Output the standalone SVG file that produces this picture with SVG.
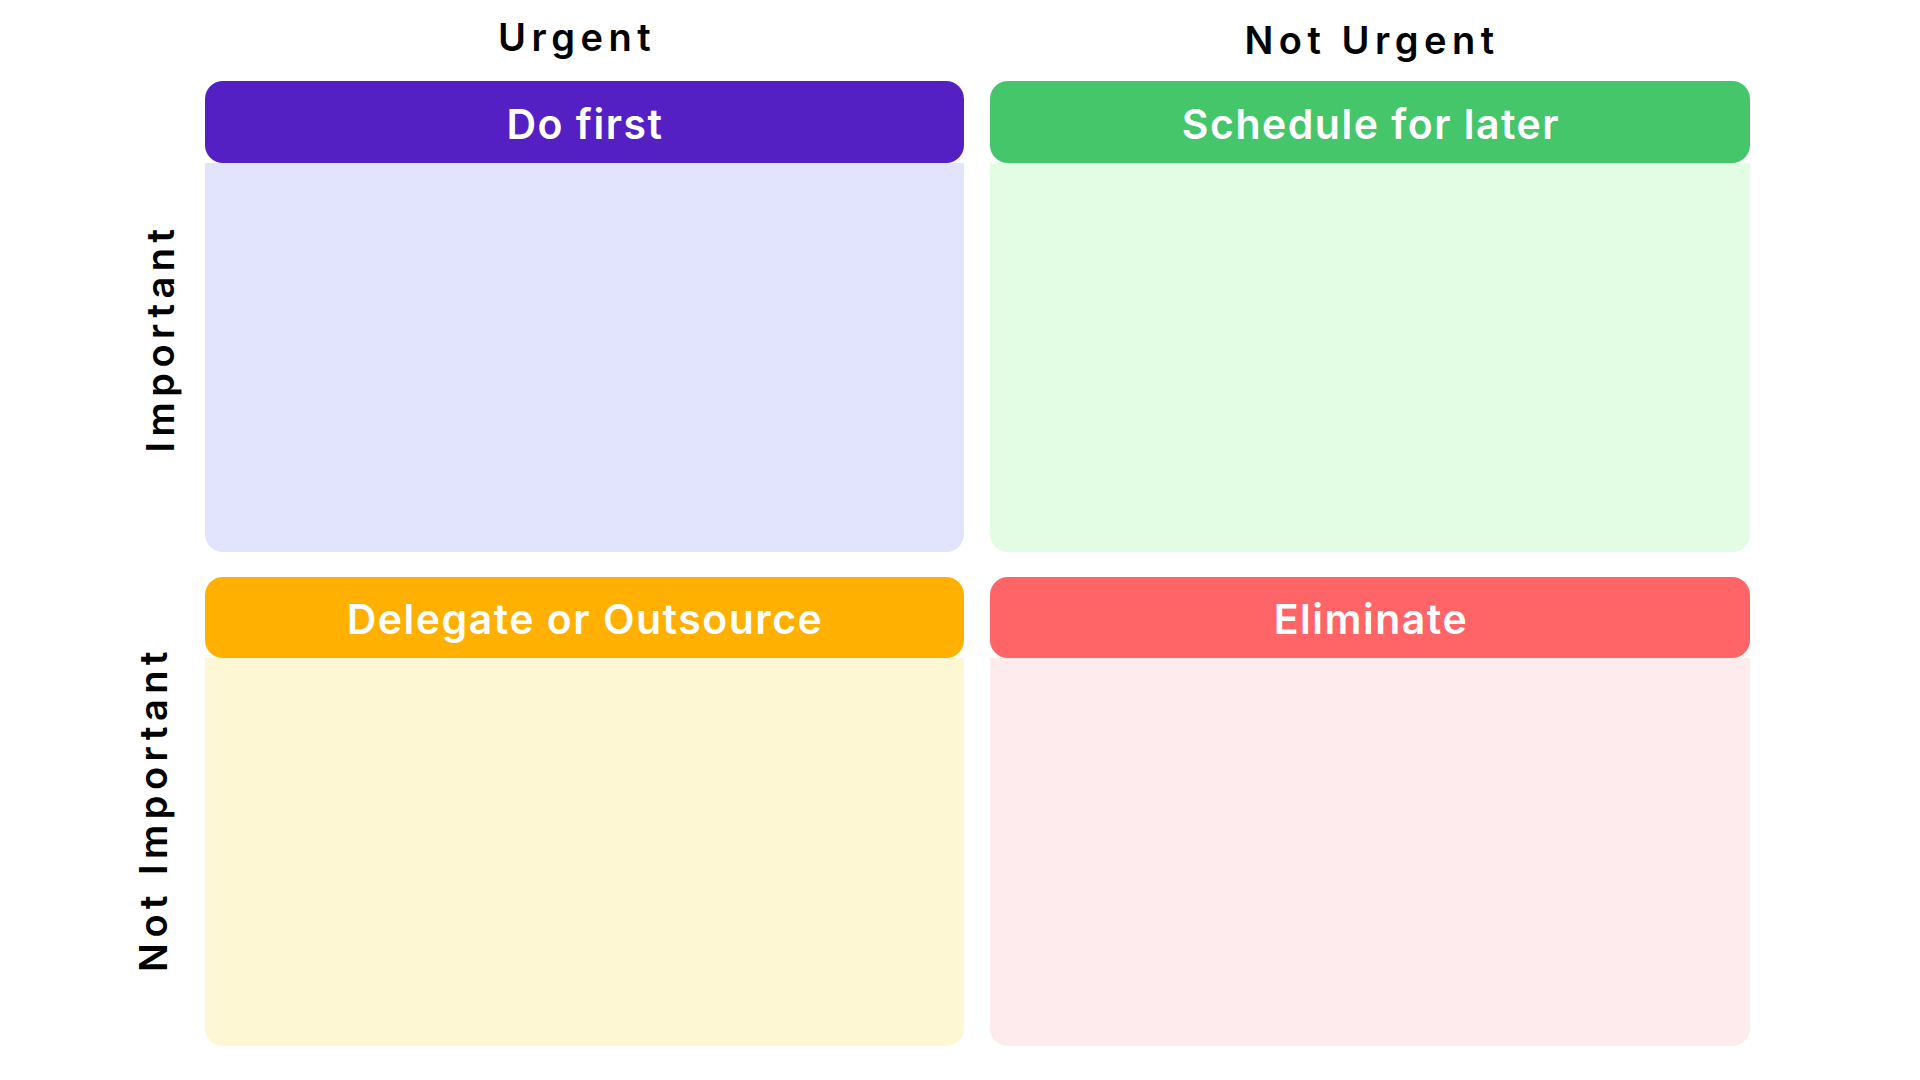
<svg xmlns="http://www.w3.org/2000/svg" width="1920" height="1080" viewBox="0 0 1920 1080">
  <style>
    .axis { font-family: Inter, "DejaVu Sans", sans-serif; font-size: 38px; font-weight: 600; fill: #000; letter-spacing: 5.5px; text-anchor: middle; }
    .title { font-family: Inter, "DejaVu Sans", sans-serif; font-size: 41px; font-weight: 600; fill: #fff; letter-spacing: 1.5px; text-anchor: middle; }
  </style>
  <rect width="1920" height="1080" fill="#fff"/>

  <!-- column axis labels -->
  <text class="axis" x="577" y="51">Urgent</text>
  <text class="axis" x="1372" y="54">Not Urgent</text>

  <!-- row axis labels -->
  <text class="axis" transform="translate(174 338) rotate(-90)">Important</text>
  <text class="axis" transform="translate(167 809) rotate(-90)">Not Important</text>

  <!-- quadrant: do first -->
  <g id="do-first">
    <path d="M205 163 H964 V534 a18 18 0 0 1 -18 18 H223 a18 18 0 0 1 -18 -18 Z" fill="#E2E4FE"/>
    <rect x="205" y="81" width="759" height="82" rx="18" fill="#5420C4"/>
    <text class="title" x="585" y="139">Do first</text>
  </g>

  <!-- quadrant: schedule for later -->
  <g id="schedule">
    <path d="M990 163 H1750 V534 a18 18 0 0 1 -18 18 H1008 a18 18 0 0 1 -18 -18 Z" fill="#E2FDE4"/>
    <rect x="990" y="81" width="760" height="82" rx="18" fill="#45C66A"/>
    <text class="title" x="1371" y="139">Schedule for later</text>
  </g>

  <!-- quadrant: delegate -->
  <g id="delegate">
    <path d="M205 658 H964 V1028 a18 18 0 0 1 -18 18 H223 a18 18 0 0 1 -18 -18 Z" fill="#FDF7D3"/>
    <rect x="205" y="577" width="759" height="81" rx="18" fill="#FFB000"/>
    <text class="title" x="585" y="634">Delegate or Outsource</text>
  </g>

  <!-- quadrant: eliminate -->
  <g id="eliminate">
    <path d="M990 658 H1750 V1028 a18 18 0 0 1 -18 18 H1008 a18 18 0 0 1 -18 -18 Z" fill="#FEEBEE"/>
    <rect x="990" y="577" width="760" height="81" rx="18" fill="#FF6466"/>
    <text class="title" x="1371" y="634">Eliminate</text>
  </g>

  <g id="connectors"/>
</svg>
